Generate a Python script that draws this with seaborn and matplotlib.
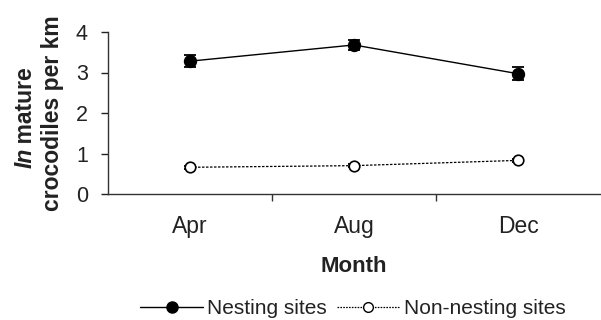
import matplotlib
matplotlib.use("Agg")
import matplotlib.pyplot as plt
import seaborn as sns
import pandas as pd
import numpy as np
from matplotlib.lines import Line2D

months = ["Apr", "Aug", "Dec"]
nesting = [3.28, 3.68, 2.97]
nesting_se = [0.15, 0.13, 0.16]
non_nesting = [0.66, 0.70, 0.83]
non_nesting_se = [0.04, 0.04, 0.04]
series_names = ["Nesting sites", "Non-nesting sites"]

sns.set_theme(style="ticks")
plt.rcParams["font.family"] = ["Liberation Sans", "DejaVu Sans"]

fig = plt.figure(figsize=(6.01, 3.2), dpi=100)
ax = fig.add_axes([108/601, 1-194/320, (600-108)/601, (194-32)/320])

df = pd.DataFrame({
    "x": list(range(len(months))) * 2,
    "value": nesting + non_nesting,
    "se": nesting_se + non_nesting_se,
    "series": [series_names[0]]*len(months) + [series_names[1]]*len(months),
})

styles = {
    series_names[0]: dict(ls="-", lw=1.0, marker="o", ms=8.4, mfc="black", mec="black"),
    series_names[1]: dict(ls=(0, (2, 1.2)), lw=0.9, marker="o", ms=7.6, mfc="white", mec="black"),
}

for name in series_names:
    sub = df[df["series"] == name]
    st = styles[name]
    ax.errorbar(sub["x"], sub["value"], yerr=sub["se"], fmt="none", ecolor="black",
                elinewidth=1, capsize=4.3, capthick=1.3, zorder=2)
    sns.lineplot(data=sub, x="x", y="value", ax=ax, color="black", linestyle=st["ls"],
                 linewidth=st["lw"], marker=st["marker"], markersize=st["ms"],
                 markerfacecolor=st["mfc"], markeredgecolor=st["mec"], markeredgewidth=1.2,
                 label=name, legend=False, zorder=3)

ax.set_xlim(-0.5, 2.5)
ax.set_ylim(0, 4)
ax.set_yticks([0, 1, 2, 3, 4])
ax.set_xticks(range(len(months)))
ax.set_xticklabels(months)
ax.set_xticks([0.5, 1.5], minor=True)
ax.tick_params(axis="x", which="major", length=0, pad=15, labelsize=16.5, colors="#222222")
ax.tick_params(axis="x", which="minor", length=5, width=1, direction="out", color="#333333")
ax.tick_params(axis="y", length=5, width=1, pad=9.5, labelsize=15.5, colors="#222222")
for s in ["top", "right"]:
    ax.spines[s].set_visible(False)
for s in ["left", "bottom"]:
    ax.spines[s].set_linewidth(1)
    ax.spines[s].set_color("#333333")

ax.set_xlabel("Month", fontsize=16, fontweight="bold", labelpad=13, color="#222222")
ax.set_ylabel("")

# Two-line y label with italic "In"
fig.text(53/601, 1-113/320, "crocodiles per km", rotation=90, fontsize=16.5,
         fontweight="bold", ha="center", va="center", color="#222222")
fig.canvas.draw()
r = fig.canvas.get_renderer()
xl1 = 25/601
t1 = fig.text(xl1, 0, "In", rotation=90, fontsize=16.5, fontweight="bold",
              fontstyle="italic", ha="center", va="bottom", color="#222222")
t2 = fig.text(xl1, 0, "\u2009mature", rotation=90, fontsize=16.5, fontweight="bold",
              ha="center", va="bottom", color="#222222")
h1 = t1.get_window_extent(r).height
h2 = t2.get_window_extent(r).height
total = h1 + h2
cy = 320 - 117.5
start = cy - total/2
t1.set_position((xl1, start/320))
t2.set_position((xl1, (start + h1)/320))

handles = [
    Line2D([], [], color="black", ls="-", lw=1.0, marker="o", ms=8, mfc="black", mec="black"),
    Line2D([], [], color="black", ls=(0, (1.3, 1)), lw=0.9, marker="o", ms=7, mfc="white", mec="black"),
]
leg = fig.legend(handles, series_names, loc="center", bbox_to_anchor=(353/601, 1-309/320),
                 ncol=2, frameon=False, fontsize=15, handlelength=3.0, handletextpad=0.2,
                 columnspacing=0.5, borderaxespad=0, borderpad=0)
for t in leg.get_texts():
    t.set_color("#222222")

fig.savefig("out.png", dpi=100)
